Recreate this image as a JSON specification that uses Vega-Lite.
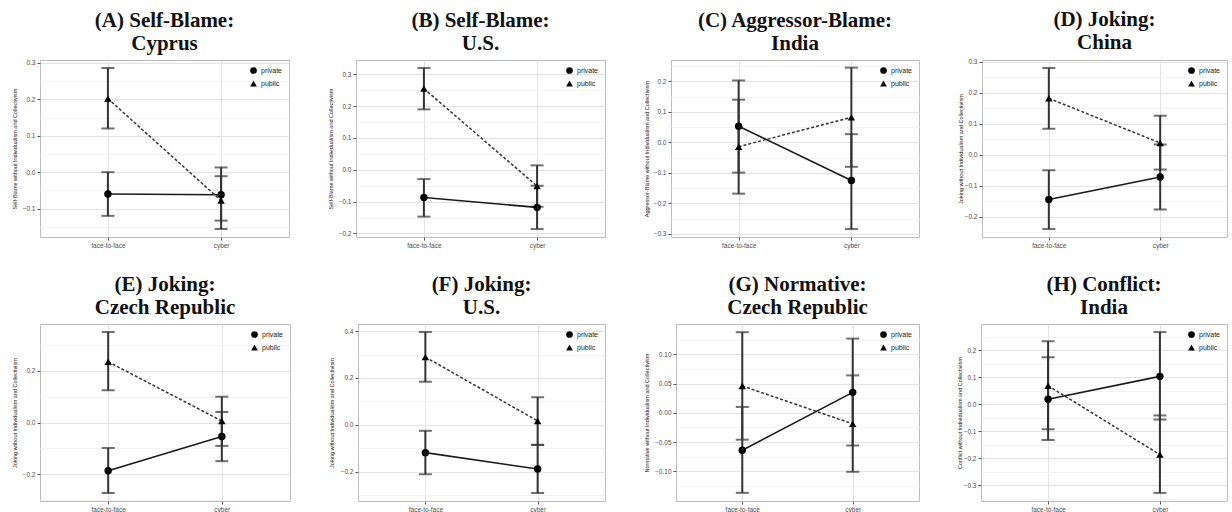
{
"$schema": "https://vega.github.io/schema/vega-lite/v6.json",
"padding": {"left": 11, "top": 8, "right": 0, "bottom": 0},
"background": "white",
"datasets": {"d": [
{"panel":"A","cond":"face-to-face","group":"private","mean":-0.06,"lo":-0.12,"hi":0.0},
{"panel":"A","cond":"face-to-face","group":"public","mean":0.202,"lo":0.12,"hi":0.286},
{"panel":"A","cond":"cyber","group":"private","mean":-0.062,"lo":-0.133,"hi":-0.011},
{"panel":"A","cond":"cyber","group":"public","mean":-0.078,"lo":-0.156,"hi":0.013},
{"panel":"B","cond":"face-to-face","group":"private","mean":-0.087,"lo":-0.147,"hi":-0.029},
{"panel":"B","cond":"face-to-face","group":"public","mean":0.255,"lo":0.19,"hi":0.32},
{"panel":"B","cond":"cyber","group":"private","mean":-0.118,"lo":-0.186,"hi":-0.05},
{"panel":"B","cond":"cyber","group":"public","mean":-0.051,"lo":-0.116,"hi":0.014},
{"panel":"C","cond":"face-to-face","group":"private","mean":0.053,"lo":-0.099,"hi":0.203},
{"panel":"C","cond":"face-to-face","group":"public","mean":-0.014,"lo":-0.168,"hi":0.14},
{"panel":"C","cond":"cyber","group":"private","mean":-0.125,"lo":-0.284,"hi":0.027},
{"panel":"C","cond":"cyber","group":"public","mean":0.082,"lo":-0.08,"hi":0.245},
{"panel":"D","cond":"face-to-face","group":"private","mean":-0.145,"lo":-0.24,"hi":-0.05},
{"panel":"D","cond":"face-to-face","group":"public","mean":0.182,"lo":0.084,"hi":0.28},
{"panel":"D","cond":"cyber","group":"private","mean":-0.072,"lo":-0.177,"hi":0.033},
{"panel":"D","cond":"cyber","group":"public","mean":0.038,"lo":-0.048,"hi":0.126},
{"panel":"E","cond":"face-to-face","group":"private","mean":-0.186,"lo":-0.272,"hi":-0.098},
{"panel":"E","cond":"face-to-face","group":"public","mean":0.235,"lo":0.125,"hi":0.35},
{"panel":"E","cond":"cyber","group":"private","mean":-0.054,"lo":-0.149,"hi":0.041},
{"panel":"E","cond":"cyber","group":"public","mean":0.006,"lo":-0.09,"hi":0.1},
{"panel":"F","cond":"face-to-face","group":"private","mean":-0.118,"lo":-0.21,"hi":-0.025},
{"panel":"F","cond":"face-to-face","group":"public","mean":0.289,"lo":0.184,"hi":0.396},
{"panel":"F","cond":"cyber","group":"private","mean":-0.188,"lo":-0.29,"hi":-0.085},
{"panel":"F","cond":"cyber","group":"public","mean":0.017,"lo":-0.085,"hi":0.118},
{"panel":"G","cond":"face-to-face","group":"private","mean":-0.064,"lo":-0.137,"hi":0.01},
{"panel":"G","cond":"face-to-face","group":"public","mean":0.046,"lo":-0.046,"hi":0.138},
{"panel":"G","cond":"cyber","group":"private","mean":0.035,"lo":-0.056,"hi":0.127},
{"panel":"G","cond":"cyber","group":"public","mean":-0.019,"lo":-0.101,"hi":0.064},
{"panel":"H","cond":"face-to-face","group":"private","mean":0.018,"lo":-0.133,"hi":0.174},
{"panel":"H","cond":"face-to-face","group":"public","mean":0.068,"lo":-0.093,"hi":0.233},
{"panel":"H","cond":"cyber","group":"private","mean":0.103,"lo":-0.057,"hi":0.267},
{"panel":"H","cond":"cyber","group":"public","mean":-0.187,"lo":-0.329,"hi":-0.042}
]},
"resolve": {"scale": {"shape": "independent"}, "legend": {"shape": "independent"}},
"vconcat": [
{"resolve": {"scale": {"shape": "independent"}, "legend": {"shape": "independent"}},
"hconcat": [
{"width":249,"height":177,"title":{"text":["(A) Self-Blame:","Cyprus"]},"data":{"name":"d"},"transform":[{"filter":"datum.panel=='A'"}],
"encoding":{"x":{"field":"cond","type":"nominal","sort":["face-to-face","cyber"],"scale":{"type":"point","padding":0.6},"axis":{"title":null,"labelAngle":0,"grid":true}}},
"layer":[
{"mark":{"type":"rule","strokeWidth":2,"color":"#333333"},"encoding":{"y":{"field":"lo","type":"quantitative","title":"Self-Blame without Individualism and Collectivism","scale":{"domain":[-0.178,0.308],"nice":false,"zero":false},"axis":{"minExtent":20,"maxExtent":20,"tickCount":50,"values":[-0.15,-0.1,-0.05,0,0.05,0.1,0.15,0.2,0.25,0.3],"labelExpr":"abs(datum.value*10-round(datum.value*10))<0.001 ? format(datum.value,'.1f') : ''","tickOpacity":{"condition":{"test":"abs(datum.value*10-round(datum.value*10))<0.001","value":1},"value":0},"gridColor":{"condition":{"test":"abs(datum.value*10-round(datum.value*10))<0.001","value":"#e3e3e3"},"value":"#f3f3f3"}}},"y2":{"field":"hi"}}},
{"mark":{"type":"tick","size":13,"thickness":2,"color":"#333333"},"encoding":{"y":{"field":"lo","type":"quantitative","title":"Self-Blame without Individualism and Collectivism"}}},
{"mark":{"type":"tick","size":13,"thickness":2,"color":"#333333"},"encoding":{"y":{"field":"hi","type":"quantitative","title":"Self-Blame without Individualism and Collectivism"}}},
{"transform":[{"filter":"datum.group=='private'"}],"mark":{"type":"line","color":"#1a1a1a","strokeWidth":1.6},"encoding":{"y":{"field":"mean","type":"quantitative","title":"Self-Blame without Individualism and Collectivism"}}},
{"transform":[{"filter":"datum.group=='public'"}],"mark":{"type":"line","color":"#333333","strokeWidth":1.5,"strokeDash":[3,2]},"encoding":{"y":{"field":"mean","type":"quantitative","title":"Self-Blame without Individualism and Collectivism"}}},
{"mark":{"type":"point","filled":true,"color":"#000000","opacity":1,"size":55},"encoding":{"y":{"field":"mean","type":"quantitative","title":"Self-Blame without Individualism and Collectivism"},"shape":{"field":"group","type":"nominal","scale":{"domain":["private","public"],"range":["circle","triangle-up"]},"legend":{"orient":"top-right","title":null}}}}
]},
{"width":249,"height":177,"title":{"text":["(B) Self-Blame:","U.S."]},"data":{"name":"d"},"transform":[{"filter":"datum.panel=='B'"}],
"encoding":{"x":{"field":"cond","type":"nominal","sort":["face-to-face","cyber"],"scale":{"type":"point","padding":0.6},"axis":{"title":null,"labelAngle":0,"grid":true}}},
"layer":[
{"mark":{"type":"rule","strokeWidth":2,"color":"#333333"},"encoding":{"y":{"field":"lo","type":"quantitative","title":"Self-Blame without Individualism and Collectivism","scale":{"domain":[-0.211,0.345],"nice":false,"zero":false},"axis":{"minExtent":20,"maxExtent":20,"tickCount":50,"values":[-0.2,-0.15,-0.1,-0.05,0,0.05,0.1,0.15,0.2,0.25,0.3],"labelExpr":"abs(datum.value*10-round(datum.value*10))<0.001 ? format(datum.value,'.1f') : ''","tickOpacity":{"condition":{"test":"abs(datum.value*10-round(datum.value*10))<0.001","value":1},"value":0},"gridColor":{"condition":{"test":"abs(datum.value*10-round(datum.value*10))<0.001","value":"#e3e3e3"},"value":"#f3f3f3"}}},"y2":{"field":"hi"}}},
{"mark":{"type":"tick","size":13,"thickness":2,"color":"#333333"},"encoding":{"y":{"field":"lo","type":"quantitative","title":"Self-Blame without Individualism and Collectivism"}}},
{"mark":{"type":"tick","size":13,"thickness":2,"color":"#333333"},"encoding":{"y":{"field":"hi","type":"quantitative","title":"Self-Blame without Individualism and Collectivism"}}},
{"transform":[{"filter":"datum.group=='private'"}],"mark":{"type":"line","color":"#1a1a1a","strokeWidth":1.6},"encoding":{"y":{"field":"mean","type":"quantitative","title":"Self-Blame without Individualism and Collectivism"}}},
{"transform":[{"filter":"datum.group=='public'"}],"mark":{"type":"line","color":"#333333","strokeWidth":1.5,"strokeDash":[3,2]},"encoding":{"y":{"field":"mean","type":"quantitative","title":"Self-Blame without Individualism and Collectivism"}}},
{"mark":{"type":"point","filled":true,"color":"#000000","opacity":1,"size":55},"encoding":{"y":{"field":"mean","type":"quantitative","title":"Self-Blame without Individualism and Collectivism"},"shape":{"field":"group","type":"nominal","scale":{"domain":["private","public"],"range":["circle","triangle-up"]},"legend":{"orient":"top-right","title":null}}}}
]},
{"width":248,"height":177,"title":{"text":["(C) Aggressor-Blame:","India"]},"data":{"name":"d"},"transform":[{"filter":"datum.panel=='C'"}],
"encoding":{"x":{"field":"cond","type":"nominal","sort":["face-to-face","cyber"],"scale":{"type":"point","padding":0.6},"axis":{"title":null,"labelAngle":0,"grid":true}}},
"layer":[
{"mark":{"type":"rule","strokeWidth":2,"color":"#333333"},"encoding":{"y":{"field":"lo","type":"quantitative","title":"Aggressor-Blame without Individualism and Collectivism","scale":{"domain":[-0.31,0.27],"nice":false,"zero":false},"axis":{"minExtent":19,"maxExtent":19,"tickCount":50,"values":[-0.3,-0.25,-0.2,-0.15,-0.1,-0.05,0,0.05,0.1,0.15,0.2,0.25],"labelExpr":"abs(datum.value*10-round(datum.value*10))<0.001 ? format(datum.value,'.1f') : ''","tickOpacity":{"condition":{"test":"abs(datum.value*10-round(datum.value*10))<0.001","value":1},"value":0},"gridColor":{"condition":{"test":"abs(datum.value*10-round(datum.value*10))<0.001","value":"#e3e3e3"},"value":"#f3f3f3"}}},"y2":{"field":"hi"}}},
{"mark":{"type":"tick","size":13,"thickness":2,"color":"#333333"},"encoding":{"y":{"field":"lo","type":"quantitative","title":"Aggressor-Blame without Individualism and Collectivism"}}},
{"mark":{"type":"tick","size":13,"thickness":2,"color":"#333333"},"encoding":{"y":{"field":"hi","type":"quantitative","title":"Aggressor-Blame without Individualism and Collectivism"}}},
{"transform":[{"filter":"datum.group=='private'"}],"mark":{"type":"line","color":"#1a1a1a","strokeWidth":1.6},"encoding":{"y":{"field":"mean","type":"quantitative","title":"Aggressor-Blame without Individualism and Collectivism"}}},
{"transform":[{"filter":"datum.group=='public'"}],"mark":{"type":"line","color":"#333333","strokeWidth":1.5,"strokeDash":[3,2]},"encoding":{"y":{"field":"mean","type":"quantitative","title":"Aggressor-Blame without Individualism and Collectivism"}}},
{"mark":{"type":"point","filled":true,"color":"#000000","opacity":1,"size":55},"encoding":{"y":{"field":"mean","type":"quantitative","title":"Aggressor-Blame without Individualism and Collectivism"},"shape":{"field":"group","type":"nominal","scale":{"domain":["private","public"],"range":["circle","triangle-up"]},"legend":{"orient":"top-right","title":null}}}}
]},
{"width":245,"height":177,"title":{"text":["(D) Joking:","China"]},"data":{"name":"d"},"transform":[{"filter":"datum.panel=='D'"}],
"encoding":{"x":{"field":"cond","type":"nominal","sort":["face-to-face","cyber"],"scale":{"type":"point","padding":0.6},"axis":{"title":null,"labelAngle":0,"grid":true}}},
"layer":[
{"mark":{"type":"rule","strokeWidth":2,"color":"#333333"},"encoding":{"y":{"field":"lo","type":"quantitative","title":"Joking without Individualism and Collectivism","scale":{"domain":[-0.266,0.306],"nice":false,"zero":false},"axis":{"minExtent":16,"maxExtent":16,"tickCount":50,"values":[-0.25,-0.2,-0.15,-0.1,-0.05,0,0.05,0.1,0.15,0.2,0.25,0.3],"labelExpr":"abs(datum.value*10-round(datum.value*10))<0.001 ? format(datum.value,'.1f') : ''","tickOpacity":{"condition":{"test":"abs(datum.value*10-round(datum.value*10))<0.001","value":1},"value":0},"gridColor":{"condition":{"test":"abs(datum.value*10-round(datum.value*10))<0.001","value":"#e3e3e3"},"value":"#f3f3f3"}}},"y2":{"field":"hi"}}},
{"mark":{"type":"tick","size":13,"thickness":2,"color":"#333333"},"encoding":{"y":{"field":"lo","type":"quantitative","title":"Joking without Individualism and Collectivism"}}},
{"mark":{"type":"tick","size":13,"thickness":2,"color":"#333333"},"encoding":{"y":{"field":"hi","type":"quantitative","title":"Joking without Individualism and Collectivism"}}},
{"transform":[{"filter":"datum.group=='private'"}],"mark":{"type":"line","color":"#1a1a1a","strokeWidth":1.6},"encoding":{"y":{"field":"mean","type":"quantitative","title":"Joking without Individualism and Collectivism"}}},
{"transform":[{"filter":"datum.group=='public'"}],"mark":{"type":"line","color":"#333333","strokeWidth":1.5,"strokeDash":[3,2]},"encoding":{"y":{"field":"mean","type":"quantitative","title":"Joking without Individualism and Collectivism"}}},
{"mark":{"type":"point","filled":true,"color":"#000000","opacity":1,"size":55},"encoding":{"y":{"field":"mean","type":"quantitative","title":"Joking without Individualism and Collectivism"},"shape":{"field":"group","type":"nominal","scale":{"domain":["private","public"],"range":["circle","triangle-up"]},"legend":{"orient":"top-right","title":null}}}}
]}
]},
{"resolve": {"scale": {"shape": "independent"}, "legend": {"shape": "independent"}},
"hconcat": [
{"width":250,"height":177,"title":{"text":["(E) Joking:","Czech Republic"]},"data":{"name":"d"},"transform":[{"filter":"datum.panel=='E'"}],
"encoding":{"x":{"field":"cond","type":"nominal","sort":["face-to-face","cyber"],"scale":{"type":"point","padding":0.6},"axis":{"title":null,"labelAngle":0,"grid":true}}},
"layer":[
{"mark":{"type":"rule","strokeWidth":2,"color":"#333333"},"encoding":{"y":{"field":"lo","type":"quantitative","title":"Joking without Individualism and Collectivism","scale":{"domain":[-0.303,0.381],"nice":false,"zero":false},"axis":{"minExtent":20,"maxExtent":20,"tickCount":50,"values":[-0.3,-0.2,-0.1,0,0.1,0.2,0.3],"labelExpr":"abs(datum.value*5-round(datum.value*5))<0.001 ? format(datum.value,'.1f') : ''","tickOpacity":{"condition":{"test":"abs(datum.value*5-round(datum.value*5))<0.001","value":1},"value":0},"gridColor":{"condition":{"test":"abs(datum.value*5-round(datum.value*5))<0.001","value":"#e3e3e3"},"value":"#f3f3f3"}}},"y2":{"field":"hi"}}},
{"mark":{"type":"tick","size":13,"thickness":2,"color":"#333333"},"encoding":{"y":{"field":"lo","type":"quantitative","title":"Joking without Individualism and Collectivism"}}},
{"mark":{"type":"tick","size":13,"thickness":2,"color":"#333333"},"encoding":{"y":{"field":"hi","type":"quantitative","title":"Joking without Individualism and Collectivism"}}},
{"transform":[{"filter":"datum.group=='private'"}],"mark":{"type":"line","color":"#1a1a1a","strokeWidth":1.6},"encoding":{"y":{"field":"mean","type":"quantitative","title":"Joking without Individualism and Collectivism"}}},
{"transform":[{"filter":"datum.group=='public'"}],"mark":{"type":"line","color":"#333333","strokeWidth":1.5,"strokeDash":[3,2]},"encoding":{"y":{"field":"mean","type":"quantitative","title":"Joking without Individualism and Collectivism"}}},
{"mark":{"type":"point","filled":true,"color":"#000000","opacity":1,"size":55},"encoding":{"y":{"field":"mean","type":"quantitative","title":"Joking without Individualism and Collectivism"},"shape":{"field":"group","type":"nominal","scale":{"domain":["private","public"],"range":["circle","triangle-up"]},"legend":{"orient":"top-right","title":null}}}}
]},
{"width":247,"height":177,"title":{"text":["(F) Joking:","U.S."]},"data":{"name":"d"},"transform":[{"filter":"datum.panel=='F'"}],
"encoding":{"x":{"field":"cond","type":"nominal","sort":["face-to-face","cyber"],"scale":{"type":"point","padding":0.6},"axis":{"title":null,"labelAngle":0,"grid":true}}},
"layer":[
{"mark":{"type":"rule","strokeWidth":2,"color":"#333333"},"encoding":{"y":{"field":"lo","type":"quantitative","title":"Joking without Individualism and Collectivism","scale":{"domain":[-0.324,0.43],"nice":false,"zero":false},"axis":{"minExtent":21,"maxExtent":21,"tickCount":50,"values":[-0.3,-0.2,-0.1,0,0.1,0.2,0.3,0.4],"labelExpr":"abs(datum.value*5-round(datum.value*5))<0.001 ? format(datum.value,'.1f') : ''","tickOpacity":{"condition":{"test":"abs(datum.value*5-round(datum.value*5))<0.001","value":1},"value":0},"gridColor":{"condition":{"test":"abs(datum.value*5-round(datum.value*5))<0.001","value":"#e3e3e3"},"value":"#f3f3f3"}}},"y2":{"field":"hi"}}},
{"mark":{"type":"tick","size":13,"thickness":2,"color":"#333333"},"encoding":{"y":{"field":"lo","type":"quantitative","title":"Joking without Individualism and Collectivism"}}},
{"mark":{"type":"tick","size":13,"thickness":2,"color":"#333333"},"encoding":{"y":{"field":"hi","type":"quantitative","title":"Joking without Individualism and Collectivism"}}},
{"transform":[{"filter":"datum.group=='private'"}],"mark":{"type":"line","color":"#1a1a1a","strokeWidth":1.6},"encoding":{"y":{"field":"mean","type":"quantitative","title":"Joking without Individualism and Collectivism"}}},
{"transform":[{"filter":"datum.group=='public'"}],"mark":{"type":"line","color":"#333333","strokeWidth":1.5,"strokeDash":[3,2]},"encoding":{"y":{"field":"mean","type":"quantitative","title":"Joking without Individualism and Collectivism"}}},
{"mark":{"type":"point","filled":true,"color":"#000000","opacity":1,"size":55},"encoding":{"y":{"field":"mean","type":"quantitative","title":"Joking without Individualism and Collectivism"},"shape":{"field":"group","type":"nominal","scale":{"domain":["private","public"],"range":["circle","triangle-up"]},"legend":{"orient":"top-right","title":null}}}}
]},
{"width":243,"height":177,"title":{"text":["(G) Normative:","Czech Republic"]},"data":{"name":"d"},"transform":[{"filter":"datum.panel=='G'"}],
"encoding":{"x":{"field":"cond","type":"nominal","sort":["face-to-face","cyber"],"scale":{"type":"point","padding":0.6},"axis":{"title":null,"labelAngle":0,"grid":true}}},
"layer":[
{"mark":{"type":"rule","strokeWidth":2,"color":"#333333"},"encoding":{"y":{"field":"lo","type":"quantitative","title":"Normative without Individualism and Collectivism","scale":{"domain":[-0.151,0.152],"nice":false,"zero":false},"axis":{"minExtent":24,"maxExtent":24,"tickCount":50,"values":[-0.125,-0.1,-0.075,-0.05,-0.025,0,0.025,0.05,0.075,0.1,0.125],"labelExpr":"abs(datum.value*20-round(datum.value*20))<0.001 ? format(datum.value,'.2f') : ''","tickOpacity":{"condition":{"test":"abs(datum.value*20-round(datum.value*20))<0.001","value":1},"value":0},"gridColor":{"condition":{"test":"abs(datum.value*20-round(datum.value*20))<0.001","value":"#e3e3e3"},"value":"#f3f3f3"}}},"y2":{"field":"hi"}}},
{"mark":{"type":"tick","size":13,"thickness":2,"color":"#333333"},"encoding":{"y":{"field":"lo","type":"quantitative","title":"Normative without Individualism and Collectivism"}}},
{"mark":{"type":"tick","size":13,"thickness":2,"color":"#333333"},"encoding":{"y":{"field":"hi","type":"quantitative","title":"Normative without Individualism and Collectivism"}}},
{"transform":[{"filter":"datum.group=='private'"}],"mark":{"type":"line","color":"#1a1a1a","strokeWidth":1.6},"encoding":{"y":{"field":"mean","type":"quantitative","title":"Normative without Individualism and Collectivism"}}},
{"transform":[{"filter":"datum.group=='public'"}],"mark":{"type":"line","color":"#333333","strokeWidth":1.5,"strokeDash":[3,2]},"encoding":{"y":{"field":"mean","type":"quantitative","title":"Normative without Individualism and Collectivism"}}},
{"mark":{"type":"point","filled":true,"color":"#000000","opacity":1,"size":55},"encoding":{"y":{"field":"mean","type":"quantitative","title":"Normative without Individualism and Collectivism"},"shape":{"field":"group","type":"nominal","scale":{"domain":["private","public"],"range":["circle","triangle-up"]},"legend":{"orient":"top-right","title":null}}}}
]},
{"width":246,"height":177,"title":{"text":["(H) Conflict:","India"]},"data":{"name":"d"},"transform":[{"filter":"datum.panel=='H'"}],
"encoding":{"x":{"field":"cond","type":"nominal","sort":["face-to-face","cyber"],"scale":{"type":"point","padding":0.6},"axis":{"title":null,"labelAngle":0,"grid":true}}},
"layer":[
{"mark":{"type":"rule","strokeWidth":2,"color":"#333333"},"encoding":{"y":{"field":"lo","type":"quantitative","title":"Conflict without Individualism and Collectivism","scale":{"domain":[-0.359,0.297],"nice":false,"zero":false},"axis":{"minExtent":15.5,"maxExtent":15.5,"tickCount":50,"values":[-0.35,-0.3,-0.25,-0.2,-0.15,-0.1,-0.05,0,0.05,0.1,0.15,0.2,0.25],"labelExpr":"abs(datum.value*10-round(datum.value*10))<0.001 ? format(datum.value,'.1f') : ''","tickOpacity":{"condition":{"test":"abs(datum.value*10-round(datum.value*10))<0.001","value":1},"value":0},"gridColor":{"condition":{"test":"abs(datum.value*10-round(datum.value*10))<0.001","value":"#e3e3e3"},"value":"#f3f3f3"}}},"y2":{"field":"hi"}}},
{"mark":{"type":"tick","size":13,"thickness":2,"color":"#333333"},"encoding":{"y":{"field":"lo","type":"quantitative","title":"Conflict without Individualism and Collectivism"}}},
{"mark":{"type":"tick","size":13,"thickness":2,"color":"#333333"},"encoding":{"y":{"field":"hi","type":"quantitative","title":"Conflict without Individualism and Collectivism"}}},
{"transform":[{"filter":"datum.group=='private'"}],"mark":{"type":"line","color":"#1a1a1a","strokeWidth":1.6},"encoding":{"y":{"field":"mean","type":"quantitative","title":"Conflict without Individualism and Collectivism"}}},
{"transform":[{"filter":"datum.group=='public'"}],"mark":{"type":"line","color":"#333333","strokeWidth":1.5,"strokeDash":[3,2]},"encoding":{"y":{"field":"mean","type":"quantitative","title":"Conflict without Individualism and Collectivism"}}},
{"mark":{"type":"point","filled":true,"color":"#000000","opacity":1,"size":55},"encoding":{"y":{"field":"mean","type":"quantitative","title":"Conflict without Individualism and Collectivism"},"shape":{"field":"group","type":"nominal","scale":{"domain":["private","public"],"range":["circle","triangle-up"]},"legend":{"orient":"top-right","title":null}}}}
]}
]}
],
"spacing": 24,
"config": {
"concat": {"spacing": 37},
"view": {"stroke": "#bdbdbd", "strokeWidth": 1},
"axis": {"domain": false, "labelFont": "Liberation Sans", "labelFontSize": 6.5, "labelColor": "#4d4d4d", "labelOverlap": false, "tickColor": "#555555", "tickSize": 3, "labelPadding": 2, "gridColor": "#e3e3e3", "titleFont": "Liberation Sans", "titleFontSize": 5.5, "titleFontWeight": "normal", "titleColor": "#222222"},
"axisY": {"titlePadding": 3, "tickCount": 50},
"title": {"font": "Liberation Serif", "fontSize": 21, "fontWeight": "bold", "lineHeight": 23, "offset": 6, "anchor": "middle", "frame": "group", "color": "#111111"},
"legend": {"labelFont": "Liberation Sans", "labelFontSize": 7, "labelColor": "#222222", "symbolSize": 45, "rowPadding": 0, "offset": 5, "padding": 1, "labelOffset": 3}
}
}
